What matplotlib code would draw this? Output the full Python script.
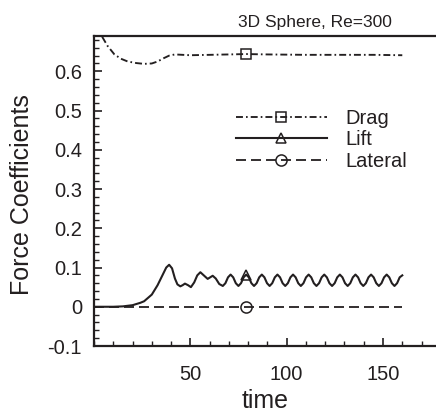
import matplotlib
matplotlib.use('Agg')
import matplotlib.pyplot as plt
from matplotlib.ticker import MultipleLocator

plt.rcParams['font.family'] = ['Liberation Sans', 'DejaVu Sans']
plt.rcParams['lines.scale_dashes'] = False
ink = '#231f20'

# drag coefficient history
drag_t = [0, 2, 4, 7, 10.6, 14, 17.5, 22, 26, 30, 33, 36, 39, 42, 50, 60, 70, 79, 90, 110, 130, 145, 160]
drag_v = [0.76, 0.72, 0.69, 0.665, 0.643, 0.632, 0.625, 0.621, 0.619, 0.62, 0.625, 0.633, 0.64, 0.643,
          0.641, 0.642, 0.643, 0.644, 0.643, 0.642, 0.642, 0.642, 0.641]

# lift coefficient history (transient, then periodic shedding)
lift_t = [0, 10, 15, 20, 24, 26, 30, 33, 35.5, 37.5, 39, 40.5, 42, 43.3, 44.8, 46, 47.2, 48.8, 50.3,
          52, 53.6, 55.2, 57.2, 59, 60.3, 61.6, 63.2, 65,
          66.85, 68.2, 69.55, 70.9, 72.25, 73.6,
          74.95, 76.3, 77.65, 79.0, 80.35, 81.7,
          83.05, 84.4, 85.75, 87.1, 88.45, 89.8,
          91.15, 92.5, 93.85, 95.2, 96.55, 97.9,
          99.25, 100.6, 101.95, 103.3, 104.65, 106.0,
          107.35, 108.7, 110.05, 111.4, 112.75, 114.1,
          115.45, 116.8, 118.15, 119.5, 120.85, 122.2,
          123.55, 124.9, 126.25, 127.6, 128.95, 130.3,
          131.65, 133.0, 134.35, 135.7, 137.05, 138.4,
          139.75, 141.1, 142.45, 143.8, 145.15, 146.5,
          147.85, 149.2, 150.55, 151.9, 153.25, 154.6,
          155.95, 157.3, 158.65, 160.0]
lift_v = [0, 0, 0.001, 0.004, 0.01, 0.014, 0.031, 0.055, 0.08, 0.1, 0.107, 0.098, 0.072, 0.057, 0.052,
          0.055, 0.059, 0.055, 0.05, 0.062, 0.08, 0.088, 0.079, 0.071, 0.075, 0.079, 0.072, 0.058,
          0.053, 0.06, 0.075, 0.082, 0.075, 0.06,
          0.053, 0.06, 0.075, 0.082, 0.075, 0.06,
          0.053, 0.06, 0.075, 0.082, 0.075, 0.06,
          0.053, 0.06, 0.075, 0.082, 0.075, 0.06,
          0.053, 0.06, 0.075, 0.082, 0.075, 0.06,
          0.053, 0.06, 0.075, 0.082, 0.075, 0.06,
          0.053, 0.06, 0.075, 0.082, 0.075, 0.06,
          0.053, 0.06, 0.075, 0.082, 0.075, 0.06,
          0.053, 0.06, 0.075, 0.082, 0.075, 0.06,
          0.053, 0.06, 0.075, 0.082, 0.075, 0.06,
          0.053, 0.06, 0.075, 0.082, 0.075, 0.06,
          0.053, 0.06, 0.075, 0.08]

# lateral force stays zero
lat_t = [0, 79, 160]
lat_v = [0, 0, 0]

mark_t = 79

fig = plt.figure(figsize=(4.36, 4.13), dpi=100)
ax = fig.add_axes([94 / 436, 67 / 413, 342 / 436, 310 / 413])

def mark_idx(ts):
    return [min(range(len(ts)), key=lambda i: abs(ts[i] - mark_t))]

ax.plot(drag_t, drag_v, color=ink, lw=1.35, dashes=(5, 2.2, 1.2, 2.2),
        marker='s', ms=6.5, mfc='none', mec=ink, mew=1.1, markevery=mark_idx(drag_t), label='Drag')
ax.plot(lift_t, lift_v, color=ink, lw=1.5, ls='-',
        marker='^', ms=7, mfc='none', mec=ink, mew=1.1, markevery=mark_idx(lift_t), label='Lift')
ax.plot(lat_t, lat_v, color=ink, lw=1.3, dashes=(7.2, 3.6),
        marker='o', ms=8, mfc='none', mec=ink, mew=1.1, markevery=[1], label='Lateral')

ax.set_xlim(0, 177.5)
ax.set_ylim(-0.1, 0.69)
ax.xaxis.set_minor_locator(MultipleLocator(10))
ax.yaxis.set_minor_locator(MultipleLocator(0.02))
ax.set_xticks([50, 100, 150])
ax.set_yticks([-0.1, 0, 0.1, 0.2, 0.3, 0.4, 0.5, 0.6])
ax.set_yticklabels(['-0.1', '0', '0.1', '0.2', '0.3', '0.4', '0.5', '0.6'])

ax.spines['right'].set_visible(False)
for s in ['left', 'bottom', 'top']:
    ax.spines[s].set_linewidth(1.6)
    ax.spines[s].set_color(ink)
ax.tick_params(which='both', direction='in', colors=ink, top=False, right=False)
ax.tick_params(which='major', length=5.8, width=1.2, labelsize=14.5)
ax.tick_params(axis='y', which='major', pad=8.6)
ax.tick_params(axis='x', which='major', pad=13.5)
ax.tick_params(which='minor', length=3.6, width=1.0)

ax.set_ylabel('Force Coefficients', fontsize=18, color=ink)
ax.yaxis.set_label_coords(-0.175, 0.49)
ax.set_xlabel('time', fontsize=18, color=ink)
ax.xaxis.set_label_coords(0.5, -0.14)

fig.text(315 / 436, 1 - 22 / 413, '3D Sphere, Re=300', fontsize=12.5, color=ink,
         ha='center', va='center')

leg = ax.legend(loc='upper left', bbox_to_anchor=(236 / 436, 1 - 109 / 413),
                bbox_transform=fig.transFigure, frameon=False, fontsize=14.5,
                handlelength=4.5, handletextpad=0.95, borderpad=0, borderaxespad=0,
                labelspacing=0.12, numpoints=1)
for t in leg.get_texts():
    t.set_color(ink)

fig.savefig('out.png', dpi=100)
